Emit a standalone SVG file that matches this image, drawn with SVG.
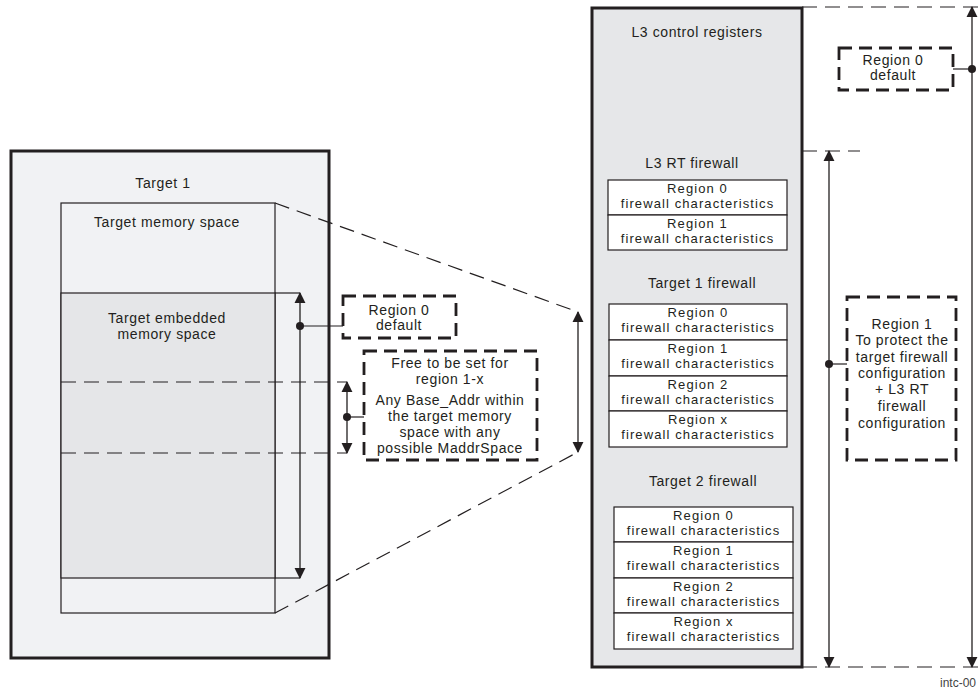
<svg xmlns="http://www.w3.org/2000/svg" width="980" height="690" viewBox="0 0 980 690">
<defs>
<style>
text{font-family:"Liberation Sans",Arial,sans-serif;font-size:14px;letter-spacing:0.6px;fill:#231f20;text-anchor:middle}
.cellt{font-size:13px;letter-spacing:1.1px}
.thick{stroke:#231f20;stroke-width:3}
.thin{stroke:#231f20;stroke-width:1.2}
.dash{fill:none;stroke:#231f20;stroke-width:1.2;stroke-dasharray:15 8}
.dbox{fill:#ffffff;stroke:#231f20;stroke-width:2.8;stroke-dasharray:13 7}
.cell{fill:#ffffff;stroke:#231f20;stroke-width:1.2}
.arrow{fill:none;stroke:#231f20;stroke-width:1.3;marker-start:url(#ah);marker-end:url(#ah)}
.dot{fill:#231f20}
.note{font-size:12px;letter-spacing:0;fill:#444;text-anchor:start}
</style>
<marker id="ah" viewBox="0 0 12 12" refX="11" refY="6" markerWidth="11" markerHeight="12" markerUnits="userSpaceOnUse" orient="auto-start-reverse">
<path d="M0,0 L12,6 L0,12 Z" fill="#231f20"/>
</marker>
</defs>
<rect width="980" height="690" fill="#ffffff"/>

<g id="target1">
<rect x="11" y="151" width="318" height="507" fill="#f1f2f4" class="thick"/>
<text x="163" y="188">Target 1</text>
</g>

<g id="target-memory-space">
<rect x="61" y="203" width="214" height="410" fill="#f1f2f4" class="thin"/>
<text x="167" y="227">Target memory space</text>
</g>

<g id="target-embedded-memory">
<rect x="61" y="293" width="214" height="285" fill="#e5e6e8" class="thin"/>
<text x="167" y="323">Target embedded</text>
<text x="167" y="339">memory space</text>
</g>

<g id="l3-control-registers">
<rect x="592" y="8" width="210" height="659" fill="#e6e7e9" class="thick"/>
<text x="697" y="37">L3 control registers</text>
</g>

<g id="l3-rt-firewall">
<text x="692" y="168">L3 RT firewall</text>
<rect x="608" y="180" width="179" height="35" class="cell"/>
<rect x="608" y="215" width="179" height="35" class="cell"/>
<g class="cellt">
<text class="cellt" x="697.5" y="193">Region 0</text>
<text class="cellt" x="697.5" y="208">firewall characteristics</text>
<text class="cellt" x="697.5" y="228">Region 1</text>
<text class="cellt" x="697.5" y="243">firewall characteristics</text>
</g>
</g>

<g id="target1-firewall">
<text x="702" y="288">Target 1 firewall</text>
<rect x="609" y="304" width="178" height="36" class="cell"/>
<rect x="609" y="340" width="178" height="36" class="cell"/>
<rect x="609" y="376" width="178" height="35" class="cell"/>
<rect x="609" y="411" width="178" height="36" class="cell"/>
<text class="cellt" x="698" y="317">Region 0</text>
<text class="cellt" x="698" y="332">firewall characteristics</text>
<text class="cellt" x="698" y="353">Region 1</text>
<text class="cellt" x="698" y="368">firewall characteristics</text>
<text class="cellt" x="698" y="389">Region 2</text>
<text class="cellt" x="698" y="404">firewall characteristics</text>
<text class="cellt" x="698" y="424">Region x</text>
<text class="cellt" x="698" y="439">firewall characteristics</text>
</g>

<g id="target2-firewall">
<text x="703" y="486">Target 2 firewall</text>
<rect x="614" y="507" width="179" height="35" class="cell"/>
<rect x="614" y="542" width="179" height="36" class="cell"/>
<rect x="614" y="578" width="179" height="35" class="cell"/>
<rect x="614" y="613" width="179" height="36" class="cell"/>
<text class="cellt" x="703.5" y="520">Region 0</text>
<text class="cellt" x="703.5" y="535">firewall characteristics</text>
<text class="cellt" x="703.5" y="555">Region 1</text>
<text class="cellt" x="703.5" y="570">firewall characteristics</text>
<text class="cellt" x="703.5" y="591">Region 2</text>
<text class="cellt" x="703.5" y="606">firewall characteristics</text>
<text class="cellt" x="703.5" y="626">Region x</text>
<text class="cellt" x="703.5" y="641">firewall characteristics</text>
</g>

<g id="region0-default-left">
<rect x="343" y="296" width="113" height="42" class="dbox"/>
<text x="399" y="315">Region 0</text>
<text x="399" y="330">default</text>
</g>

<g id="free-region">
<rect x="364" y="351" width="173" height="109" class="dbox"/>
<text x="450" y="368">Free to be set for</text>
<text x="450" y="384">region 1-x</text>
<text x="450" y="405">Any Base_Addr within</text>
<text x="450" y="421">the target memory</text>
<text x="450" y="437">space with any</text>
<text x="450" y="453">possible MaddrSpace</text>
</g>

<g id="region0-default-right">
<rect x="839" y="48" width="114" height="42" class="dbox"/>
<text x="893" y="65">Region 0</text>
<text x="893" y="80">default</text>
</g>

<g id="region1-protect">
<rect x="847" y="297" width="109" height="163" class="dbox"/>
<text x="902" y="329">Region 1</text>
<text x="902" y="345">To protect the</text>
<text x="902" y="362">target firewall</text>
<text x="902" y="378">configuration</text>
<text x="902" y="394">+ L3 RT</text>
<text x="902" y="411">firewall</text>
<text x="902" y="428">configuration</text>
</g>

<g id="connectors">
<line class="dash" x1="61" y1="382" x2="347" y2="382"/>
<line class="dash" x1="61" y1="453" x2="347" y2="453"/>
<line class="dash" x1="275" y1="203" x2="578" y2="312"/>
<line class="dash" x1="275" y1="613" x2="578" y2="452"/>
<line class="dash" x1="802" y1="7" x2="980" y2="7"/>
<line class="dash" x1="802" y1="151" x2="860" y2="151"/>
<line class="dash" x1="802" y1="667" x2="980" y2="667"/>
<line class="thin" x1="275" y1="293" x2="300" y2="293"/>
<line class="thin" x1="275" y1="578" x2="300" y2="578"/>
<line class="arrow" x1="300" y1="293" x2="300" y2="578"/>
<circle class="dot" cx="300" cy="326" r="4"/>
<line class="thin" x1="300" y1="326" x2="343" y2="326"/>
<line class="arrow" x1="347" y1="382" x2="347" y2="453"/>
<circle class="dot" cx="347" cy="417" r="4"/>
<line class="thin" x1="347" y1="417" x2="364" y2="417"/>
<line class="arrow" x1="578" y1="312" x2="578" y2="452"/>
<line class="arrow" x1="829" y1="151" x2="829" y2="667"/>
<circle class="dot" cx="829" cy="364" r="4"/>
<line class="thin" x1="829" y1="364" x2="847" y2="364"/>
<line class="arrow" x1="972" y1="7" x2="972" y2="667"/>
<circle class="dot" cx="972" cy="69" r="4"/>
<line class="thin" x1="953" y1="69" x2="972" y2="69"/>
</g>

<text class="note" x="940" y="687">intc-00</text>
</svg>
